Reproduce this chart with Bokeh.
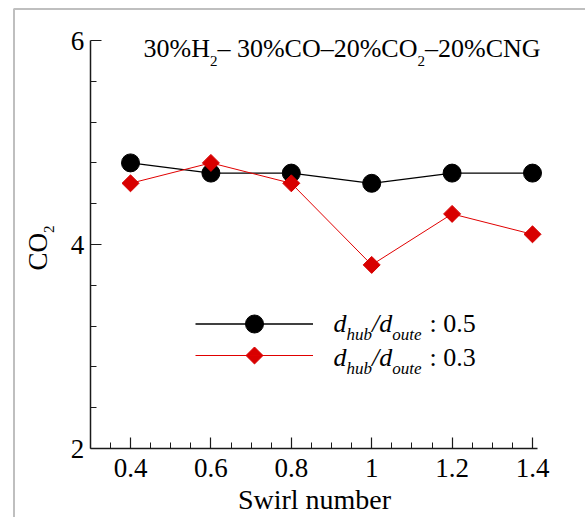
import math
from bokeh.plotting import figure
from bokeh.models import Range1d, FixedTicker, Label, Legend, LegendItem, BoxAnnotation
from bokeh.embed import file_html
from bokeh.resources import INLINE

# ---- data ----
swirl = [0.4, 0.6, 0.8, 1.0, 1.2, 1.4]
co2_hub05 = [4.8, 4.7, 4.7, 4.6, 4.7, 4.7]
co2_hub03 = [4.6, 4.8, 4.6, 3.8, 4.3, 4.1]
x_ticks = [0.4, 0.6, 0.8, 1.0, 1.2, 1.4]
x_tick_labels = ["0.4", "0.6", "0.8", "1", "1.2", "1.4"]
x_minor = [0.35, 0.45, 0.5, 0.55, 0.65, 0.7, 0.75, 0.85, 0.9, 0.95, 1.05, 1.1,
           1.15, 1.25, 1.3, 1.35, 1.4]
y_ticks = [2, 4, 6]
y_minor = [2.4, 2.8, 3.2, 3.6, 4.4, 4.8, 5.2, 5.6]
x_axis_bounds = (0.3, 1.4124)
y_axis_bounds = (2.0, 6.0)

SERIF = "Liberation Serif"
W, H = 585, 517
FL, FT, FR, FB = 12, 7, 585, 517       # frame edges (px); axes drawn inside it
PX_X0, PX_X1, PX_Y0, PX_Y1 = 130, 532, 448, 40   # px of x=0.4, x=1.4, y=2, y=6
sx_ = (PX_X1 - PX_X0) / (1.4 - 0.4)
sy_ = (PX_Y0 - PX_Y1) / (6 - 2)
XS, XE = 0.4 - (PX_X0 - FL) / sx_, 0.4 + (FR - PX_X0) / sx_
YS, YE = 2 - (FB - PX_Y0) / sy_, 6 + (PX_Y1 - FT) / sy_
BASE_FIX = 0.33   # observed offset of Bokeh's alphabetic baseline (em)


def xd(px):
    return XS + (px - FL) / sx_


def yd(py):
    return YS + (FB - py) / sy_


p = figure(width=W, height=H, output_backend="svg", toolbar_location=None,
           x_range=Range1d(XS, XE), y_range=Range1d(YS, YE),
           min_border_left=FL, min_border_right=W - FR,
           min_border_top=FT, min_border_bottom=H - FB)
p.outline_line_color = None
p.grid.visible = False
p.background_fill_color = "white"
p.border_fill_color = "white"

# axes (fixed inside the frame)
xa = p.xaxis[0]
xa.fixed_location = y_axis_bounds[0]
xa.bounds = x_axis_bounds
xa.ticker = FixedTicker(ticks=x_ticks, minor_ticks=x_minor)
xa.major_label_overrides = {t: l for t, l in zip(x_ticks, x_tick_labels)}
ya = p.yaxis[0]
ya.fixed_location = x_axis_bounds[0]
ya.bounds = y_axis_bounds
ya.ticker = FixedTicker(ticks=y_ticks, minor_ticks=y_minor)
for ax in (xa, ya):
    ax.axis_line_color = "#1a1a1a"
    ax.axis_line_width = 1.5
    ax.major_tick_in = 11
    ax.major_tick_out = 0
    ax.minor_tick_in = 6
    ax.minor_tick_out = 0
    ax.major_tick_line_color = "#1a1a1a"
    ax.minor_tick_line_color = "#1a1a1a"
    ax.major_tick_line_width = 1.2
    ax.minor_tick_line_width = 1.0
    ax.major_label_text_font = SERIF
    ax.major_label_text_font_size = "27px"
    ax.major_label_text_color = "black"
    ax.axis_label = None
xa.major_label_standoff = 10
ya.major_label_standoff = 6

# series
l1 = p.line(swirl, co2_hub05, line_color="black", line_width=1.3)
s1 = p.scatter(swirl, co2_hub05, marker="circle", size=18,
               fill_color="black", line_color="black")
l2 = p.line(swirl, co2_hub03, line_color="#e00000", line_width=1.0)
s2 = p.scatter(swirl, co2_hub03, marker="square", size=12, angle=math.pi / 4,
               fill_color="#d80000", line_color="#d80000")

# legend samples
LEG_X0, LEG_W = 195, 118
LEG_Y = (323, 355)
common = dict(padding=0, margin=0, spacing=0, label_standoff=0, label_width=0,
              label_height=0, label_text_font_size="1px", glyph_width=LEG_W,
              background_fill_alpha=0, border_line_color=None)
leg1 = Legend(items=[LegendItem(label=" ", renderers=[l1, s1])],
              location=(LEG_X0 - FL, FB - (LEG_Y[0] + 22.5)), glyph_height=45, **common)
leg2 = Legend(items=[LegendItem(label=" ", renderers=[l2])],
              location=(LEG_X0 - FL, FB - (LEG_Y[1] + 15)), glyph_height=30, **common)
p.add_layout(leg1)
p.add_layout(leg2)
# rotated-square key for the red series (Bokeh legends never rotate markers)
p.scatter([xd(LEG_X0 + LEG_W / 2)], [yd(LEG_Y[1])], marker="square", size=12,
          angle=math.pi / 4, fill_color="#d80000", line_color="#d80000")


def lab(text, px, py, size, style="normal", angle=0.0, align="left"):
    # (px, py): where the text baseline should start, in picture pixels
    if angle:
        px -= BASE_FIX * size
    else:
        py -= BASE_FIX * size
    p.add_layout(Label(x=xd(px), y=yd(py), text=text, text_font=SERIF,
                       text_font_size=f"{size}px", text_font_style=style,
                       text_color="black", text_align=align,
                       text_baseline="alphabetic", angle=angle))


# width table (Times metrics, em)
WR = {"0": .5, "1": .5, "2": .5, "3": .5, "4": .5, "5": .5, "%": .833, "H": .722,
      "C": .667, "O": .722, "N": .722, "G": .722, "–": .5, " ": .25, ":": .278,
      ".": .25}
WI = {"d": .5, "h": .5, "u": .5, "b": .5, "/": .278, "o": .5, "t": .278, "e": .444}


def tw(s, size, table):
    return sum(table.get(c, .5) for c in s) * size


# title with subscripts
T, TS = 26, 15
title_parts = [("30%H", False), ("2", True), ("–", False), ("30%CO–20%CO", False),
               ("2", True), ("–20%CNG", False)]
x = 143
for txt, sub in title_parts:
    if sub:
        lab(txt, x, 65, TS)
        x += tw(txt, TS, WR)
    else:
        lab(txt, x, 57, T)
        x += tw(txt, T, WR)
        if txt == "–":
            x += tw(" ", T, WR)

# legend labels
for base, val in ((332, "0.5"), (366, "0.3")):
    x = 333
    for txt, kind in (("d", "i"), ("hub", "s"), ("/", "i"), ("d", "i"),
                      ("oute", "s"), (": " + val, "r")):
        if kind == "i":
            lab(txt, x, base, 26, "italic")
            x += tw(txt, 26, WI)
        elif kind == "s":
            lab(txt, x, base + 8, 17, "italic")
            x += tw(txt, 17, WI)
        else:
            lab(txt, x + 8, base, 26)

# axis titles
lab("Swirl number", 314, 508, 28, align="center")
lab("CO", 46, 270, 27, angle=math.pi / 2)
lab("2", 53, 270 - tw("CO", 27, WR), 15, angle=math.pi / 2)

# outer frame (left and top edges visible, as in the reference crop)
p.add_layout(BoxAnnotation(left=xd(13.5), right=xd(900), top=yd(8.5), bottom=yd(900),
                           fill_alpha=0, line_color="#2a2a2a", line_width=2))

open("out.html", "w").write(file_html(p, INLINE))
